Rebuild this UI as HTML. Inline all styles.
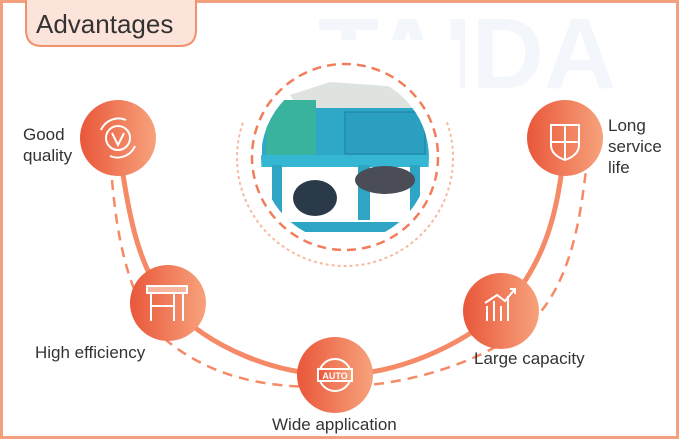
<!DOCTYPE html>
<html><head><meta charset="utf-8"><style>
html,body{margin:0;padding:0;background:#fff}
#w{position:relative;width:680px;height:440px;overflow:hidden;font-family:"Liberation Sans",sans-serif;color:#333}
.t{position:absolute;font-size:17px;line-height:21px;color:#333}
</style></head><body><div id="w">
<svg width="680" height="440" style="position:absolute;left:0;top:0">
<defs>
<linearGradient id="g" x1="0" x2="1" y1="0" y2="0"><stop offset="0" stop-color="#e9573a"/><stop offset="1" stop-color="#f7a27c"/></linearGradient>
<clipPath id="cp"><circle cx="345" cy="158" r="84"/></clipPath>
</defs>
<rect x="1.5" y="1.5" width="676" height="436" fill="none" stroke="#f3a07f" stroke-width="3"/>
<text x="318" y="88" font-family="Liberation Sans" font-weight="bold" font-size="100" fill="#f3f6fa">TAIDA</text>
<path d="M26,0 V30 Q26,46 42,46 H180 Q196,46 196,30 V0" fill="#fde4da" stroke="#f0926b" stroke-width="2"/>
<path d="M118,138 C128,220 140,270 168,303 C210,350 280,375 335,375 C400,375 460,345 501,311 C550,260 560,200 565,138" fill="none" stroke="#f58a66" stroke-width="5"/>
<path d="M112,180 C118,250 132,300 160,335 C220,388 290,387 335,387 C410,386 480,362 525,328 C570,290 580,220 586,170" fill="none" stroke="#f58a66" stroke-width="2.5" stroke-dasharray="10 7"/>
<circle cx="345" cy="158" r="108" fill="none" stroke="#f7b9a2" stroke-width="2" stroke-dasharray="3 3"/>
<rect x="230" y="40" width="230" height="82" fill="#fff"/>
<circle cx="345" cy="157" r="93" fill="none" stroke="#f27d5c" stroke-width="2.5" stroke-dasharray="9 6"/>
<g clip-path="url(#cp)">
<rect x="250" y="70" width="200" height="180" fill="#fff"/>
<polygon points="290,95 330,82 415,88 420,110 300,110" fill="#dfe3e0"/>
<rect x="262" y="108" width="175" height="48" fill="#2fa7c7"/>
<rect x="266" y="100" width="50" height="56" fill="#3ab39e"/>
<rect x="345" y="112" width="80" height="42" fill="#2a9fbf" stroke="#1d7f9c"/>
<rect x="255" y="155" width="200" height="12" fill="#35b7d3"/>
<rect x="272" y="165" width="10" height="70" fill="#2ea5c5"/>
<rect x="358" y="165" width="12" height="55" fill="#2ea5c5"/>
<rect x="410" y="165" width="10" height="50" fill="#2ea5c5"/>
<ellipse cx="315" cy="198" rx="22" ry="18" fill="#2b3a48"/>
<rect x="260" y="222" width="180" height="10" fill="#2ea5c5"/>
<ellipse cx="385" cy="180" rx="30" ry="14" fill="#4a4d55"/>
</g>
<g fill="url(#g)">
<circle cx="118" cy="138" r="38"/><circle cx="168" cy="303" r="38"/><circle cx="335" cy="375" r="38"/><circle cx="501" cy="311" r="38"/><circle cx="565" cy="138" r="38"/>
</g>
<g fill="none" stroke="#fff" stroke-width="2">
<circle cx="118" cy="138" r="12"/><path d="M112,133 L118,145 L124,133"/><path d="M101,130 A19,19 0 0 1 126,120"/><path d="M135,146 A19,19 0 0 1 110,156"/>
<rect x="147" y="286" width="40" height="7" fill="#f6b79e"/><path d="M151,293 V321 M183,293 V321 M174,293 V321 M151,306 H174"/>
<circle cx="335" cy="375" r="16"/><rect x="318" y="369" width="34" height="12" fill="url(#g)"/>
<path d="M487,321 V306 M494,321 V301 M501,321 V306 M508,321 V296 M485,303 L497,295 L505,301 L515,289 M510,289 H515 V294"/>
<path d="M551,125 H579 V145 Q579,155 565,160 Q551,155 551,145 Z M565,125 V160 M551,142 H579"/>
</g>
<text x="335" y="379" font-size="9" font-weight="bold" fill="#fff" text-anchor="middle" font-family="Liberation Sans">AUTO</text>
</svg>
<div style="position:absolute;left:36px;top:9px;font-size:26px;color:#333">Advantages</div>
<div class="t" style="left:23px;top:124px">Good<br>quality</div>
<div class="t" style="left:35px;top:342px">High efficiency</div>
<div class="t" style="left:272px;top:414px">Wide application</div>
<div class="t" style="left:474px;top:348px">Large capacity</div>
<div class="t" style="left:608px;top:115px">Long<br>service<br>life</div>
</div></body></html>
